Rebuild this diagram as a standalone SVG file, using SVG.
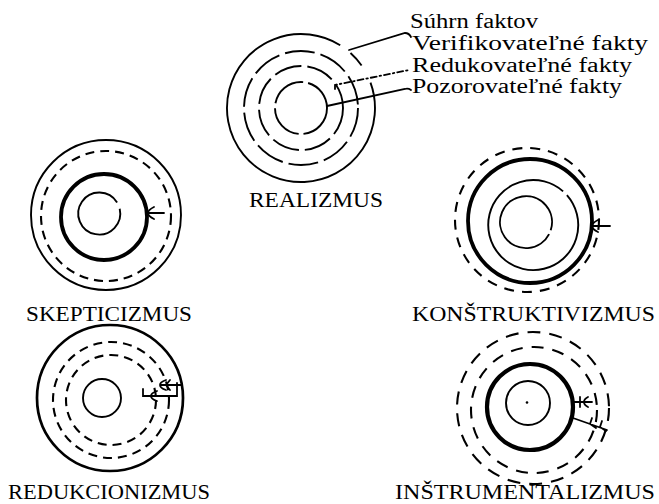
<svg xmlns="http://www.w3.org/2000/svg" width="659" height="504" viewBox="0 0 659 504">
<style>
.c{fill:none;stroke:#000;stroke-width:1.9}
.k{fill:none;stroke:#000;stroke-width:3.8}
.d{stroke-dasharray:9 6;stroke-width:2.1}
.ld{stroke-dasharray:30 6}
.a{fill:none;stroke:#000;stroke-width:1.8;stroke-linecap:round}
text{font-family:"Liberation Serif","Times New Roman",serif;font-size:22px;fill:#000}
.lg{font-size:20px}
</style>
<rect width="659" height="504" fill="#fff"/>

<g id="realizmus">
<path class="c" d="M370.5,82.7 A74,74 0 1 1 340.2,45.3"/>
<path class="c" d="M350.5,53 A74,74 0 0 1 361.6,65.5"/>
<circle class="c ld" cx="301" cy="108" r="57"/>
<circle class="c" style="stroke-dasharray:28 6" cx="301" cy="108" r="42"/>
<circle class="c" style="stroke-dasharray:38 5" cx="301" cy="108" r="26"/>
<text x="249" y="207" textLength="134" lengthAdjust="spacingAndGlyphs">REALIZMUS</text>
</g>

<g id="legend">
<text class="lg" x="410" y="28" textLength="128" lengthAdjust="spacingAndGlyphs">Súhrn faktov</text>
<text class="lg" x="412" y="50" textLength="236" lengthAdjust="spacingAndGlyphs">Verifikovateľné fakty</text>
<text class="lg" x="412" y="72" textLength="220" lengthAdjust="spacingAndGlyphs">Redukovateľné fakty</text>
<text class="lg" x="412" y="93" textLength="210" lengthAdjust="spacingAndGlyphs">Pozorovateľné fakty</text>
</g>

<g id="skepticizmus">
<circle class="c" cx="106" cy="215" r="75"/>
<circle class="c d" cx="106" cy="216" r="65"/>
<circle class="k" cx="104" cy="217" r="43"/>
<path class="c" d="M117.1,202.5 A21,21 0 1 0 119.7,208.8"/>
<text x="26" y="321" textLength="166" lengthAdjust="spacingAndGlyphs">SKEPTICIZMUS</text>
</g>

<g id="konstruktivizmus">
<circle class="c" style="stroke-dasharray:10 8;stroke-width:2.1" cx="527" cy="220" r="72"/>
<circle class="k" cx="530" cy="221" r="62"/>
<path class="c" d="M566.9,195.2 A45,45 0 1 1 563.1,191.4"/>
<path class="c" d="M549.1,234.1 A26,26 0 1 1 550.7,230.3"/>
<text x="412" y="321" textLength="243" lengthAdjust="spacingAndGlyphs">KONŠTRUKTIVIZMUS</text>
</g>

<g id="redukcionizmus">
<circle class="c" style="stroke-width:2.7" cx="110" cy="398" r="73"/>
<circle class="c d" cx="111" cy="400" r="58"/>
<circle class="c d" cx="111" cy="400" r="45"/>
<circle class="c" cx="102" cy="398" r="19"/>
<text x="8" y="499" textLength="202" lengthAdjust="spacingAndGlyphs">REDUKCIONIZMUS</text>
</g>

<g id="instrumentalizmus">
<circle class="c" style="stroke-dasharray:13 9;stroke-width:2.1" cx="533" cy="408" r="76"/>
<circle class="c" style="stroke-dasharray:12 9;stroke-width:2.1" cx="534" cy="410" r="63"/>
<circle class="k" style="stroke-width:4.2" cx="530" cy="407" r="43"/>
<circle class="c" cx="528" cy="403" r="22"/>
<circle cx="527" cy="402.5" r="1.3" fill="#000"/>
<text x="395" y="499" textLength="260" lengthAdjust="spacingAndGlyphs">INŠTRUMENTALIZMUS</text>
</g>

<g id="connectors">
<path class="a" d="M349,50 L405,33 Q409,33 411,37"/>
<path class="a" style="stroke-dasharray:6 3 1.5 3" d="M335,89 L335,85 L409,70"/>
<path class="a" d="M327,106 L405,89 Q408,88 411,90"/>
<path class="a" d="M148,213 L164,213 M154,207 Q148,210 148,213 Q148,216 154,219"/>
<path class="a" d="M592,226 L610,226 M598,220 Q592,223 592,226 Q592,229 598,232"/>
<path class="a" d="M160,385 L182,385 M166,380 Q160,382 160,385 Q160,388 166,390 M170,380 L166,385 L170,390"/>
<path class="a" d="M143,389 L143,396 L177,396 L177,383 M157,391 Q151,393 151,396 Q151,399 157,401"/>
<path class="a" d="M574,402 L592,402 M580,397 L580,407 M588,397 Q584,399 584,402 Q584,405 588,407"/>
<path class="a" d="M573,418 L607,430 M592,418 L590,424 L596,428 M602,421 L600,427 L606,431"/>
</g>
</svg>
